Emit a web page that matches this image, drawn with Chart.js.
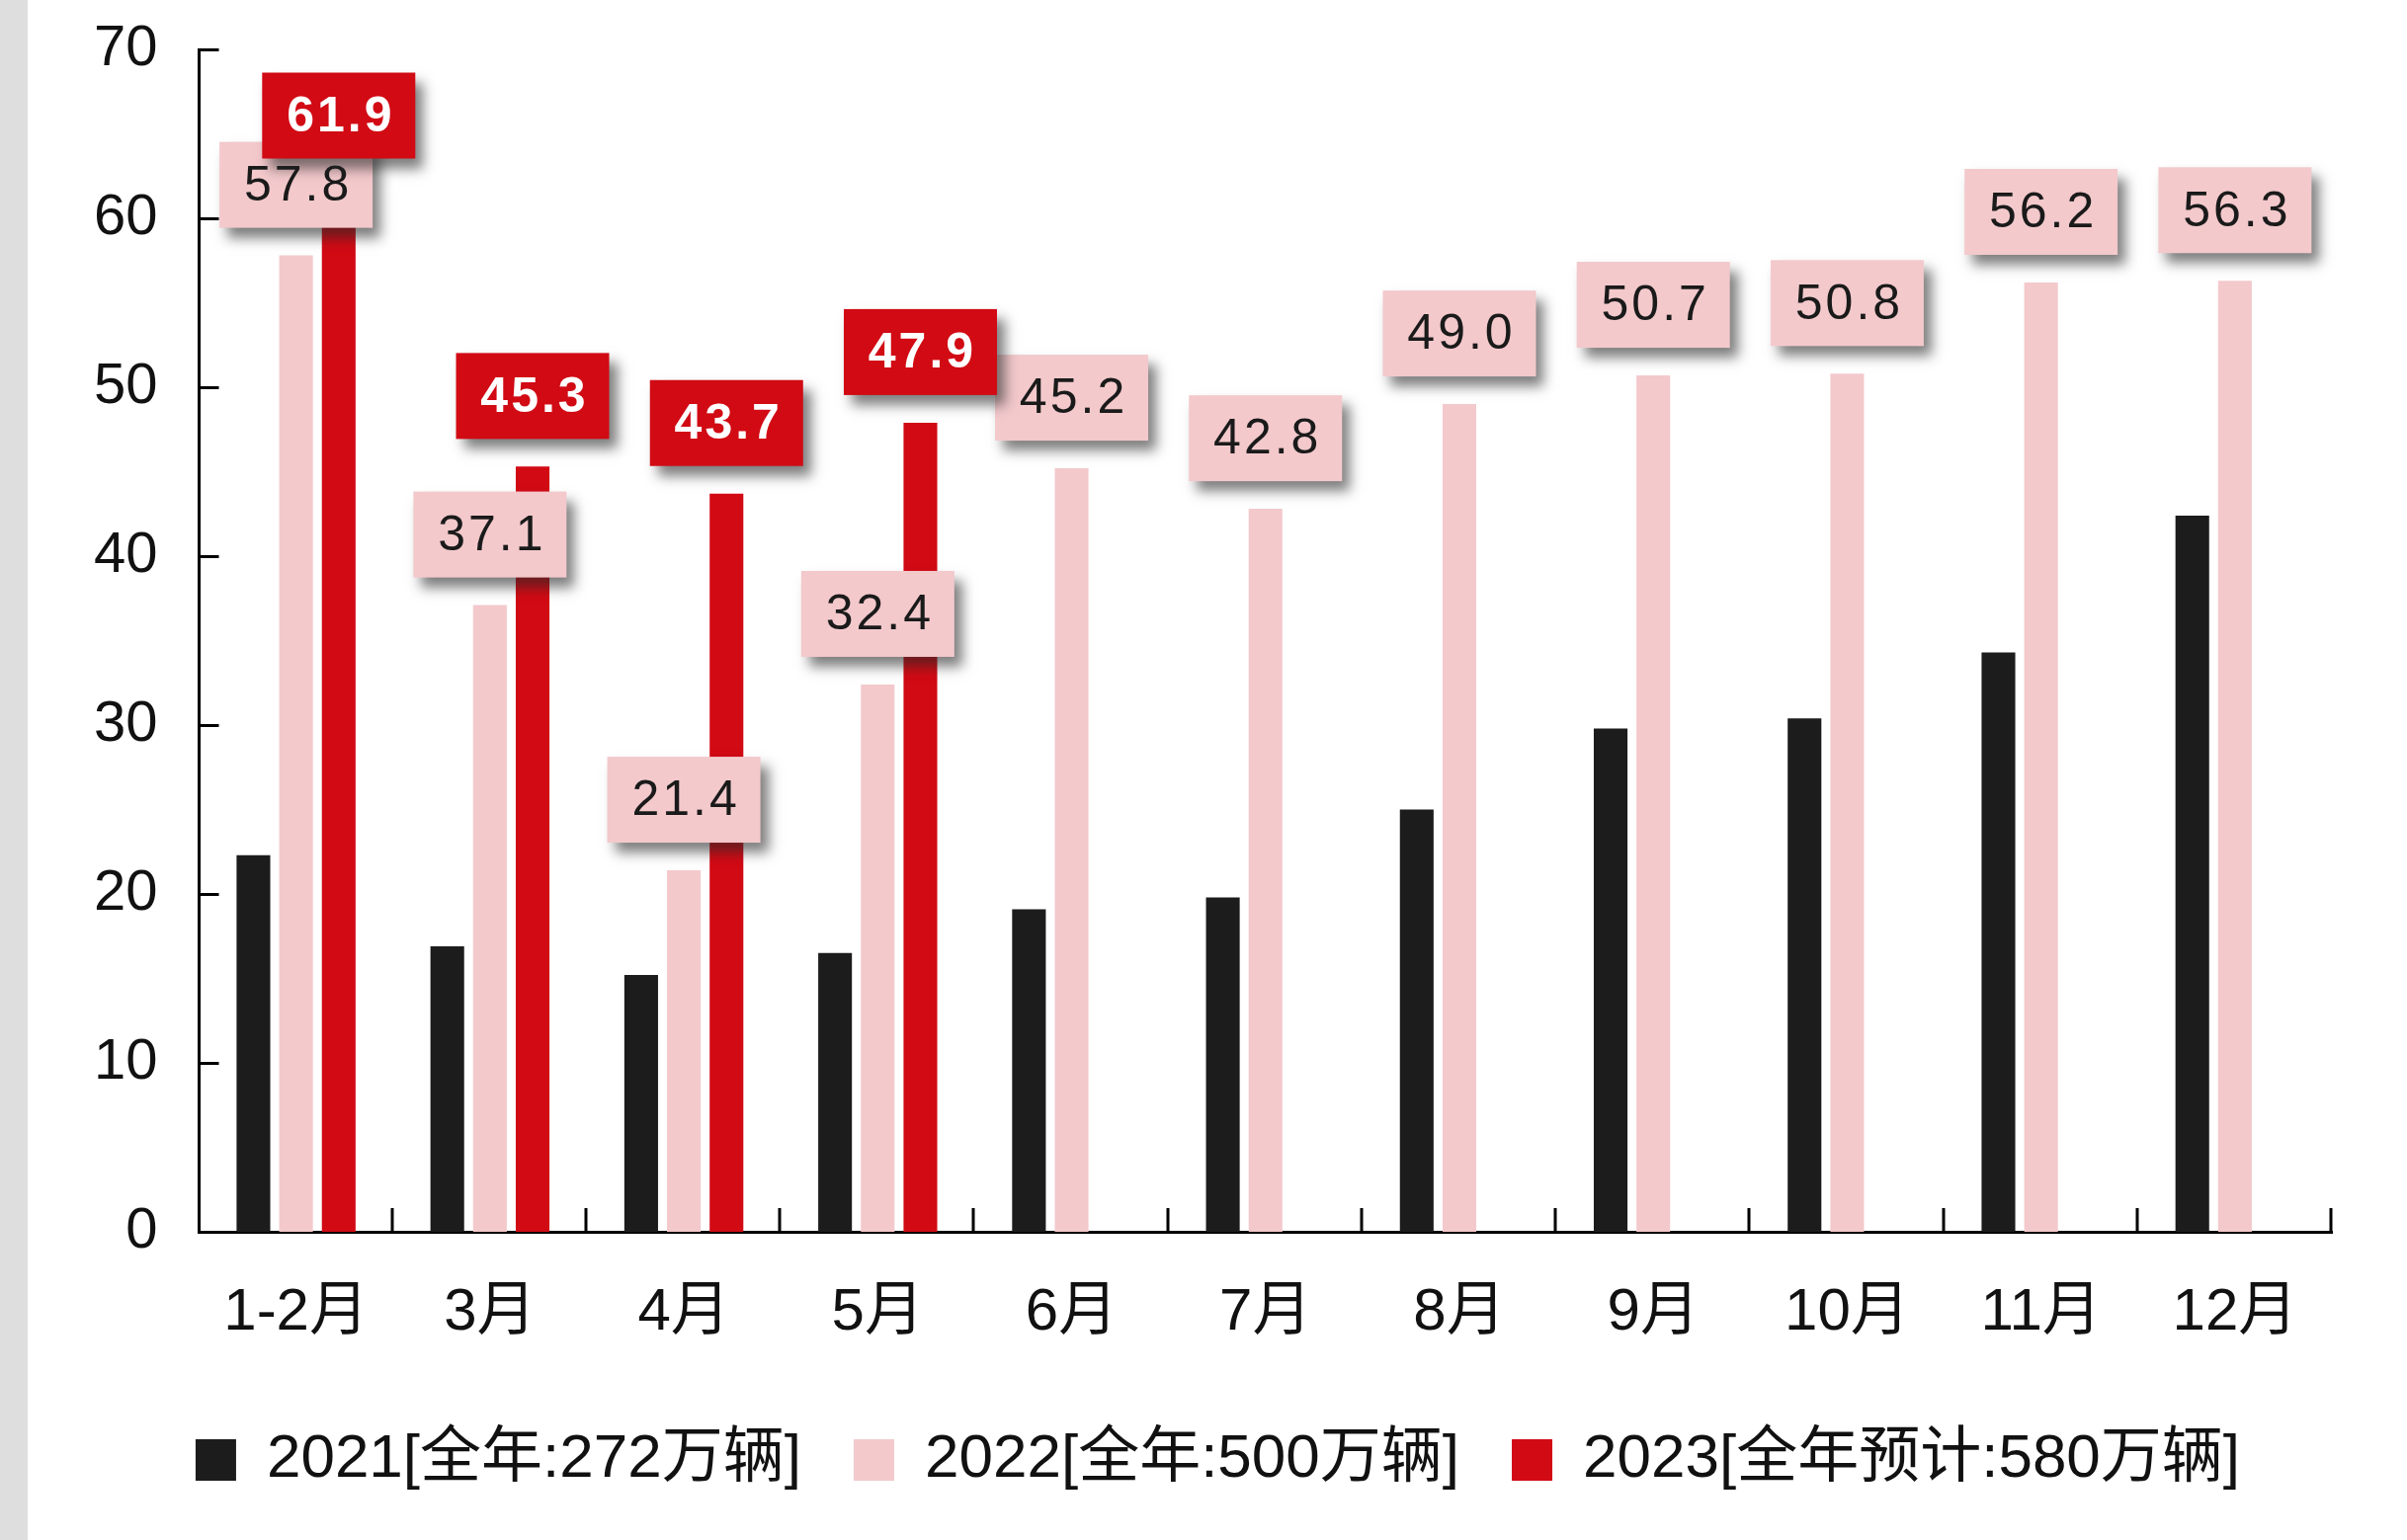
<!DOCTYPE html>
<html>
<head>
<meta charset="utf-8">
<script src="https://cdn.jsdelivr.net/npm/chart.js@4.4.0/dist/chart.umd.min.js"></script>
<style>
html, body { margin: 0; padding: 0; background: #fff; }
#strip { position: absolute; left: 0; top: 0; width: 28px; height: 1559px; background: #dedede; }
#wrap { position: absolute; left: 0; top: 0; width: 2436px; height: 1559px; }
</style>
</head>
<body>
<div id="strip"></div>
<div id="wrap"><canvas id="c"></canvas></div>
<script>
// 月份
const months = ['1-2月', '3月', '4月', '5月', '6月', '7月', '8月', '9月', '10月', '11月', '12月'];
// 各年销量 (万辆)
const sales2021 = [22.3, 16.9, 15.2, 16.5, 19.1, 19.8, 25.0, 29.8, 30.4, 34.3, 42.4];
const sales2022 = [57.8, 37.1, 21.4, 32.4, 45.2, 42.8, 49.0, 50.7, 50.8, 56.2, 56.3];
const sales2023 = [61.9, 45.3, 43.7, 47.9, null, null, null, null, null, null, null];
const seriesNames = ['2021[全年:272万辆]', '2022[全年:500万辆]', '2023[全年预计:580万辆]'];
const yTicks = [0, 10, 20, 30, 40, 50, 60, 70];

const FONT = '"Liberation Sans", "Noto Sans CJK SC", sans-serif';
const BLACK = '#1c1c1c';
const PINK = '#f3c9cc';
const RED = '#d10a14';

// 内向刻度线
const innerTicks = {
  id: 'innerTicks',
  afterDatasetsDraw (chart) {
    const { ctx, chartArea, scales } = chart;
    ctx.save();
    ctx.strokeStyle = '#000';
    ctx.lineWidth = 3;
    ctx.beginPath();
    yTicks.forEach(v => {
      const y = Math.round(scales.y.getPixelForValue(v)) + 0.5;
      ctx.moveTo(chartArea.left, y);
      ctx.lineTo(chartArea.left + 20, y);
    });
    for (let i = 1; i <= months.length; i++) {
      const x = i === months.length
        ? chartArea.right
        : (scales.x.getPixelForValue(i - 1) + scales.x.getPixelForValue(i)) / 2;
      ctx.moveTo(Math.round(x) - 1, chartArea.bottom);
      ctx.lineTo(Math.round(x) - 1, chartArea.bottom - 24);
    }
    ctx.stroke();
    ctx.restore();
  }
};

// 数据标签（带阴影的方框）
const boxLabels = {
  id: 'boxLabels',
  afterLayout (chart) {
    // 图例整体略向右
    chart.legend.left += 26;
    chart.legend.right += 26;
  },
  afterDatasetsDraw (chart) {
    const { ctx } = chart;
    const styles = {
      1: { bg: PINK, color: '#1a1a1a', weight: 'normal' },
      2: { bg: RED, color: '#fff', weight: 'bold' }
    };
    [1, 2].forEach(di => {
      const meta = chart.getDatasetMeta(di);
      const data = chart.data.datasets[di].data;
      const st = styles[di];
      meta.data.forEach((bar, i) => {
        if (data[i] == null) return;
        const w = 155, h = 87;
        const x = bar.x - w / 2;
        const y = bar.y - 28 - h;
        ctx.save();
        ctx.shadowColor = 'rgba(40, 40, 40, 0.6)';
        ctx.shadowBlur = 12;
        ctx.shadowOffsetX = 8;
        ctx.shadowOffsetY = 10;
        ctx.fillStyle = st.bg;
        ctx.fillRect(x, y, w, h);
        ctx.restore();
        ctx.save();
        ctx.fillStyle = st.color;
        ctx.font = st.weight + ' 50px ' + FONT;
        ctx.letterSpacing = '3px';
        ctx.textAlign = 'center';
        ctx.textBaseline = 'middle';
        ctx.fillText(data[i].toFixed(1), bar.x + 2, y + h / 2 + 2);
        ctx.restore();
      });
    });
  }
};

new Chart(document.getElementById('c'), {
  type: 'bar',
  data: {
    labels: months,
    datasets: [
      { label: seriesNames[0], data: sales2021, backgroundColor: BLACK },
      { label: seriesNames[1], data: sales2022, backgroundColor: PINK },
      { label: seriesNames[2], data: sales2023, backgroundColor: RED }
    ]
  },
  options: {
    responsive: true,
    maintainAspectRatio: false,
    animation: false,
    devicePixelRatio: 1,
    datasets: {
      bar: { categoryPercentage: 0.66, barPercentage: 0.79, borderWidth: 0 }
    },
    layout: { padding: { left: 53, right: 76, top: 50, bottom: 40 } },
    plugins: {
      tooltip: { enabled: false },
      legend: {
        position: 'bottom',
        labels: {
          boxWidth: 41,
          boxHeight: 42,
          padding: 53,
          color: '#111',
          font: { family: FONT, size: 62 }
        }
      }
    },
    scales: {
      x: {
        grid: { display: false, drawTicks: false },
        border: { color: '#000', width: 3 },
        ticks: { color: '#111', padding: 46, font: { family: FONT, size: 60 } },
        afterFit (s) { s.height -= 17; }
      },
      y: {
        min: 0,
        max: 70,
        afterBuildTicks (s) { s.ticks = yTicks.map(v => ({ value: v })); },
        afterFit (s) { s.paddingTop = 0; s.paddingBottom = 0; },
        grid: { display: false, drawTicks: false },
        border: { color: '#000', width: 3 },
        ticks: { color: '#111', padding: 42, font: { family: FONT, size: 58 } }
      }
    }
  },
  plugins: [innerTicks, boxLabels]
});
</script>
</body>
</html>
